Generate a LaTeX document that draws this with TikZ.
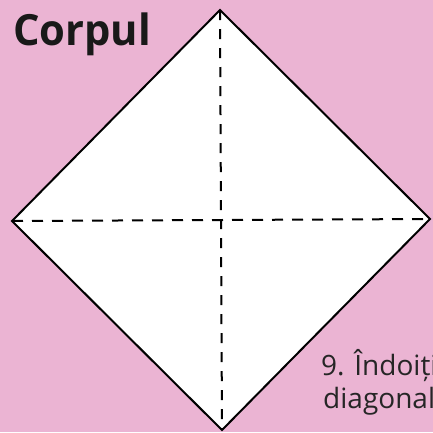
\documentclass[tikz,border=0pt]{standalone}
\usepackage{fontspec}
\setmainfont{Open Sans}
\definecolor{PaperPink}{RGB}{235,180,211}

\begin{document}
\begin{tikzpicture}[x=1pt, y=-1pt, every node/.style={inner sep=0pt, anchor=base west}]
\fill[PaperPink] (0,0) rectangle (433,432);
\useasboundingbox (0,0) rectangle (433,432);

\coordinate (top) at (220,10);
\coordinate (left) at (12,221);
\coordinate (right) at (430,219);
\coordinate (bottom) at (222,430);

\fill[white] (top) -- (right) -- (bottom) -- (left) -- cycle;
\draw[line width=2pt, dash pattern=on 10pt off 9pt] (top) -- (bottom);
\draw[line width=2pt, dash pattern=on 11pt off 9pt] (left) -- (right);
\draw[line width=2pt, line join=miter] (top) -- (right) -- (bottom) -- (left) -- cycle;

\node[font=\fontsize{43}{48}\selectfont\bfseries, text=black!90, xscale=0.97] (title) at (13,45) {Corpul};
\begin{scope}
\clip (0,0) rectangle (433,432);
\node[font=\fontsize{28}{33}\selectfont, text=black!85] (step9) at (321,375) {9. Îndoiți};
\node[font=\fontsize{28}{33}\selectfont, text=black!85] (step9b) at (323,408) {diagonal};
\end{scope}
\end{tikzpicture}
\end{document}
